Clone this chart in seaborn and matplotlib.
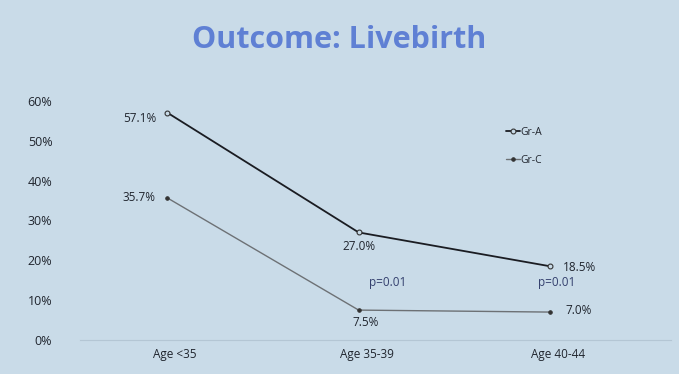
import numpy as np
import pandas as pd
import matplotlib
matplotlib.use('Agg')
import matplotlib.pyplot as plt
import matplotlib.transforms as mtransforms
import seaborn as sns

# data
categories = ['Age <35', 'Age 35-39', 'Age 40-44']
gr_a = [0.571, 0.270, 0.185]
gr_c = [0.357, 0.075, 0.070]
p_labels = ['p=0.01', 'p=0.01']
y_ticks = [0, 0.1, 0.2, 0.3, 0.4, 0.5, 0.6]

df = pd.DataFrame({
    'x': list(range(len(categories))) * 2,
    'rate': gr_a + gr_c,
    'group': ['Gr-A'] * 3 + ['Gr-C'] * 3,
})

sns.set_theme(style='white')
plt.rcParams['font.family'] = ['Open Sans', 'DejaVu Sans']

bg = '#c9dbe8'
fig = plt.figure(figsize=(6.79, 3.74), dpi=100, facecolor=bg)
ax = fig.add_axes([0.118, 0.091, 0.87, 0.639])
ax.set_facecolor(bg)

sns.lineplot(data=df[df.group == 'Gr-A'], x='x', y='rate', ax=ax, color='#1a1c22',
             linewidth=1.3, marker='o', markersize=3.5, markerfacecolor=bg,
             markeredgecolor='#333333', markeredgewidth=0.8, label='Gr-A')
sns.lineplot(data=df[df.group == 'Gr-C'], x='x', y='rate', ax=ax, color='#6d7175',
             linewidth=1.0, marker='o', markersize=2.5, markerfacecolor='#333333',
             markeredgecolor='#333333', label='Gr-C')

ax.set_xlim(-0.454, 2.63)
ax.set_ylim(0, 0.6)
ax.set_yticks(y_ticks)
ax.set_yticklabels([f'{int(round(t * 100))}%' for t in y_ticks], fontsize=9, color='#20252e')
ax.set_xticks(range(len(categories)))
ax.set_xticklabels(categories, fontsize=8.5, color='#20252e')
ax.tick_params(axis='y', length=0, pad=20)
ax.tick_params(axis='x', length=0, pad=6)
shift = mtransforms.ScaledTranslation(8 / 100, 0, fig.dpi_scale_trans)
for lab in ax.get_xticklabels():
    lab.set_transform(lab.get_transform() + shift)
ax.set_xlabel('')
ax.set_ylabel('')
for s in ['top', 'right', 'left']:
    ax.spines[s].set_visible(False)
ax.spines['bottom'].set_color('#b4c6d4')
ax.spines['bottom'].set_linewidth(0.8)

txt = dict(fontsize=8.5, color='#20252e')
ax.annotate(f'{gr_a[0]*100:.1f}%', (0, gr_a[0]), xytext=(-8, -4), textcoords='offset points', ha='right', va='center', **txt)
ax.annotate(f'{gr_c[0]*100:.1f}%', (0, gr_c[0]), xytext=(-8, 0), textcoords='offset points', ha='right', va='center', **txt)
ax.annotate(f'{gr_a[1]*100:.1f}%', (1, gr_a[1]), xytext=(0, -10), textcoords='offset points', ha='center', va='center', **txt)
ax.annotate(f'{gr_c[1]*100:.1f}%', (1, gr_c[1]), xytext=(5, -9), textcoords='offset points', ha='center', va='center', **txt)
ax.annotate(f'{gr_a[2]*100:.1f}%', (2, gr_a[2]), xytext=(9, -1), textcoords='offset points', ha='left', va='center', **txt)
ax.annotate(f'{gr_c[2]*100:.1f}%', (2, gr_c[2]), xytext=(11, 1), textcoords='offset points', ha='left', va='center', **txt)
ax.annotate(p_labels[0], (1, gr_c[1]), xytext=(21, 20), textcoords='offset points', ha='center', va='center',
            fontsize=8.5, color='#34406e')
ax.annotate(p_labels[1], (2, gr_a[2]), xytext=(5, -12), textcoords='offset points', ha='center', va='center',
            fontsize=8.5, color='#34406e')

leg = ax.legend(loc='upper left', bbox_to_anchor=(0.705, 0.93), frameon=False, fontsize=7.5,
                handlelength=1.3, handletextpad=0.1, labelspacing=1.6)
for t in leg.get_texts():
    t.set_color('#20252e')

fig.text(0.5, 0.893, 'Outcome: Livebirth', ha='center', va='center', fontsize=22,
         fontweight='bold', color='#5f80d4')

fig.savefig('out.png', dpi=100, facecolor=bg)
